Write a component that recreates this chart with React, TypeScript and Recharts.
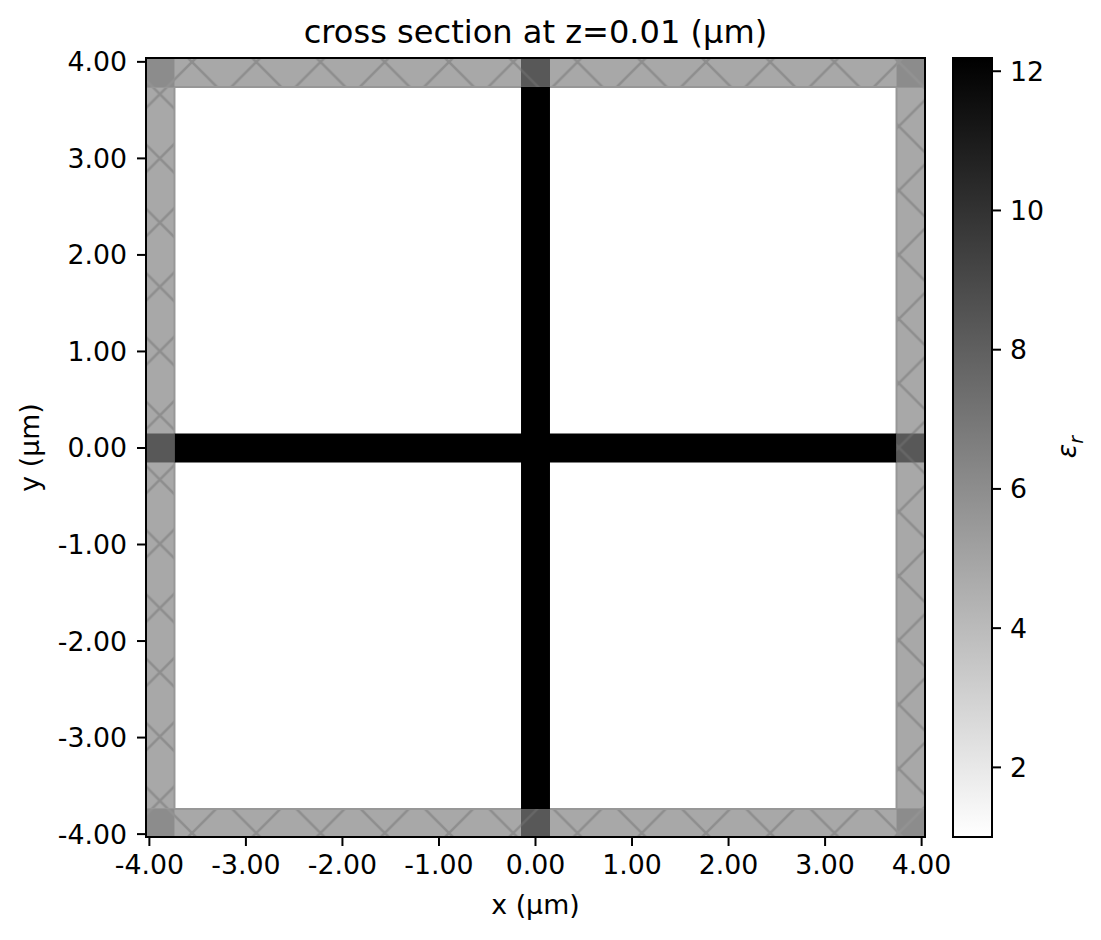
import React from "react";
import { ComposedChart, XAxis, YAxis, ReferenceArea } from "recharts";

const FONT = "'DejaVu Sans', sans-serif";
const TICK_VALUES = [-4, -3, -2, -1, 0, 1, 2, 3, 4];
const EPS_TICKS = [2, 4, 6, 8, 10, 12];
const X_MIN = -4.035;
const X_MAX = 4.035;
const Y_MIN = -4.03;
const Y_MAX = 4.04;
const PML_INNER = 3.74;
const WG_HALF = 0.15;
const EPS_MIN = 1;
const EPS_MAX = 12.19;

const pmlBands = [
  { x1: X_MIN, x2: -PML_INNER, y1: Y_MIN, y2: Y_MAX },
  { x1: PML_INNER, x2: X_MAX, y1: Y_MIN, y2: Y_MAX },
  { x1: X_MIN, x2: X_MAX, y1: PML_INNER, y2: Y_MAX },
  { x1: X_MIN, x2: X_MAX, y1: Y_MIN, y2: -PML_INNER },
];
const waveguides = [
  { x1: -PML_INNER, x2: PML_INNER, y1: -WG_HALF, y2: WG_HALF },
  { x1: -WG_HALF, x2: WG_HALF, y1: -PML_INNER, y2: PML_INNER },
];
const corners = [
  { x1: X_MIN, x2: -PML_INNER, y1: PML_INNER, y2: Y_MAX },
  { x1: PML_INNER, x2: X_MAX, y1: PML_INNER, y2: Y_MAX },
  { x1: X_MIN, x2: -PML_INNER, y1: Y_MIN, y2: -PML_INNER },
  { x1: PML_INNER, x2: X_MAX, y1: Y_MIN, y2: -PML_INNER },
];
const crossings = [
  { x1: X_MIN, x2: -PML_INNER, y1: -WG_HALF, y2: WG_HALF },
  { x1: PML_INNER, x2: X_MAX, y1: -WG_HALF, y2: WG_HALF },
  { x1: -WG_HALF, x2: WG_HALF, y1: PML_INNER, y2: Y_MAX },
  { x1: -WG_HALF, x2: WG_HALF, y1: Y_MIN, y2: -PML_INNER },
];

const FONT_SIZE = 26.75;
const tickStyle = { fontSize: FONT_SIZE, fontFamily: FONT, fill: "#000" };
const axisTickLine = { stroke: "#000", strokeWidth: 2 };
const labelStyle = { fontSize: FONT_SIZE, fontFamily: FONT, fill: "#000" };

function Hatch({ id, bg, line }: { id: string; bg: string; line: string }) {
  return (
    <pattern id={id} patternUnits="userSpaceOnUse" width={64.25} height={64.25} patternTransform="translate(192 62)">
      <rect x={0} y={0} width={64.25} height={64.25} fill={bg} />
      <path d="M-2 -2L66.25 66.25M66.25 -2L-2 66.25" stroke={line} strokeWidth={2.6} fill="none" />
    </pattern>
  );
}

export default function App() {
  return (
    <div style={{ position: "absolute", left: 0, top: 0, width: 1101, height: 940, background: "#fff", overflow: "hidden" }}>
      <div style={{ position: "absolute", left: 146, width: 779, top: 12, textAlign: "center", fontFamily: FONT, fontSize: 32.1, lineHeight: "40px", whiteSpace: "nowrap", color: "#000" }}>
        cross section at z=0.01 (μm)
      </div>
      <div style={{ position: "absolute", left: 0, top: 0 }}>
        <ComposedChart width={1000} height={940} data={[]} margin={{ top: 58, right: 75, bottom: 0, left: 0 }}>
          <defs>
            <Hatch id="hatch" bg="#a8a8a8" line="#8e8e8e" />
            <Hatch id="hatchCorner" bg="#8c8c8c" line="#929292" />
            <Hatch id="hatchDark" bg="#585858" line="#666666" />
          </defs>
          <XAxis type="number" dataKey="x" domain={[X_MIN, X_MAX]} ticks={TICK_VALUES} allowDataOverflow interval={0}
            tickFormatter={(v: number) => v.toFixed(2)} tick={tickStyle} tickLine={axisTickLine} tickSize={9} tickMargin={9}
            axisLine={false} height={103}
            label={{ value: "x (μm)", position: "insideTop", offset: 58, style: labelStyle }} />
          <YAxis type="number" dataKey="y" domain={[Y_MIN, Y_MAX]} ticks={TICK_VALUES} allowDataOverflow interval={0}
            tickFormatter={(v: number) => v.toFixed(2)} tick={tickStyle} tickLine={axisTickLine} tickSize={9} tickMargin={10}
            axisLine={false} width={146}
            label={{ value: "y (μm)", angle: -90, position: "insideLeft", offset: 30, style: { ...labelStyle, textAnchor: "middle" } }} />
          {pmlBands.map((r, i) => (
            <ReferenceArea key={"p" + i} {...r} fill="url(#hatch)" fillOpacity={1} stroke="#979797" strokeWidth={2} ifOverflow="hidden" />
          ))}
          {waveguides.map((r, i) => (
            <ReferenceArea key={"w" + i} {...r} fill="#000" fillOpacity={1} stroke="none" />
          ))}
          {corners.map((r, i) => (
            <ReferenceArea key={"c" + i} {...r} fill="url(#hatchCorner)" fillOpacity={1} stroke="none" />
          ))}
          {crossings.map((r, i) => (
            <ReferenceArea key={"d" + i} {...r} fill="url(#hatchDark)" fillOpacity={1} stroke="none" />
          ))}
          <ReferenceArea x1={X_MIN} x2={X_MAX} y1={Y_MIN} y2={Y_MAX} fill="none" stroke="#000" strokeWidth={2} />
        </ComposedChart>
      </div>
      <div style={{ position: "absolute", left: 945, top: 0 }}>
        <ComposedChart width={156} height={940} data={[]} margin={{ top: 58, right: 0, bottom: 103, left: 8 }}>
          <defs>
            <linearGradient id="greys" x1="0" y1="0" x2="0" y2="1">
              <stop offset="0%" stopColor="#000" />
              <stop offset="100%" stopColor="#fff" />
            </linearGradient>
          </defs>
          <XAxis type="number" dataKey="x" domain={[0, 1]} allowDataOverflow height={0} tick={false} tickLine={false} axisLine={false} />
          <YAxis type="number" dataKey="y" orientation="right" domain={[EPS_MIN, EPS_MAX]} ticks={EPS_TICKS} allowDataOverflow interval={0}
            tick={tickStyle} tickLine={axisTickLine} tickSize={9} tickMargin={9} axisLine={false} width={109} />
          <ReferenceArea x1={0} x2={1} y1={EPS_MIN} y2={EPS_MAX} fill="url(#greys)" fillOpacity={1} stroke="#000" strokeWidth={2} />
        </ComposedChart>
      </div>
      <div style={{ position: "absolute", left: 1069, top: 447, transform: "translate(-50%,-50%) rotate(-90deg)", fontFamily: "'DejaVu Sans', serif", fontStyle: "italic", fontSize: 26.75, color: "#000", whiteSpace: "nowrap" }}>
        ε<sub style={{ fontSize: 19 }}>r</sub>
      </div>
    </div>
  );
}
